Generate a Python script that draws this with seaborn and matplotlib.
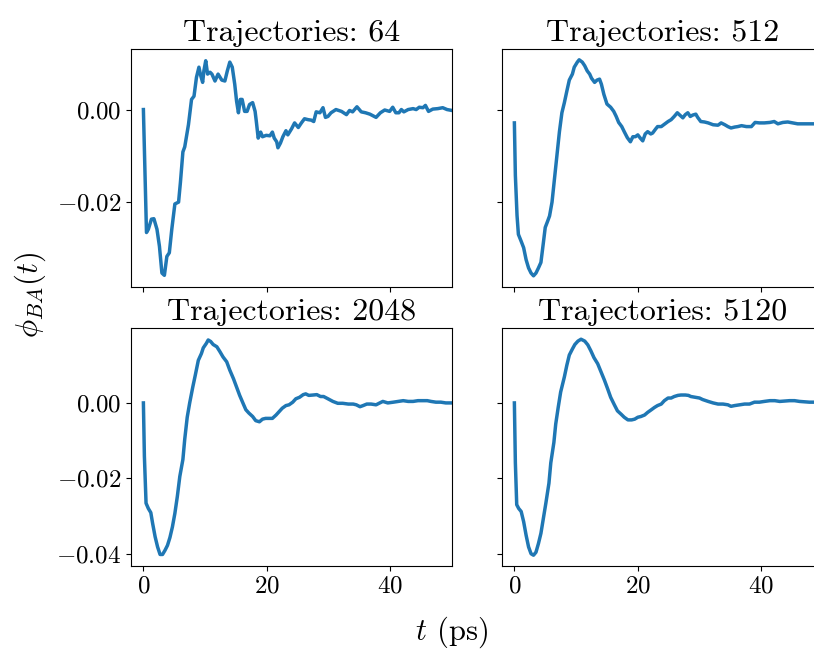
import matplotlib
matplotlib.use("Agg")
import matplotlib.pyplot as plt
import pandas as pd
import seaborn as sns

# Time axis (ps) and correlation function phi_BA(t) for each ensemble size
t64 = [0, 0.5, 0.8, 1.3, 1.7, 2.2, 2.6, 3.0, 3.4, 3.8, 4.2, 4.6, 5.1, 5.7, 6.0,
       6.4, 6.7, 7.3, 7.8, 8.2, 8.6, 9.0, 9.3, 9.6, 9.8, 10.1, 10.4, 10.8, 11.1,
       11.6, 12.1, 12.7, 13.2, 13.6, 14.0, 14.4, 14.8, 15.1, 15.4, 15.7, 16.0,
       16.4, 16.8, 17.2, 17.7, 18.1, 18.3, 18.6, 19.0, 19.3, 19.9, 20.5, 20.9,
       21.2, 21.6, 21.8, 22.2, 22.6, 23.1, 23.4, 24.0, 24.5, 25.1, 25.6, 26.1,
       26.7, 27.2, 27.6, 28.0, 28.6, 29.1, 29.5, 29.9, 30.4, 31.2, 32.1, 32.9,
       33.4, 33.9, 34.6, 35.3, 36.0, 36.7, 37.7, 38.4, 39.1, 39.9, 40.4, 40.9,
       41.4, 41.8, 42.2, 42.9, 43.7, 44.2, 44.7, 45.3, 45.7, 46.2, 46.9, 47.7,
       48.5, 49.2, 50.0]
phi64 = [0.0, -0.0267, -0.026, -0.0238, -0.0237, -0.026, -0.0297, -0.0355,
         -0.036, -0.0319, -0.0311, -0.026, -0.0205, -0.0201, -0.0158, -0.0092,
         -0.0081, -0.0033, 0.0022, 0.0029, 0.0070, 0.0092, 0.0073, 0.0059,
         0.0084, 0.0106, 0.0077, 0.0081, 0.0077, 0.0062, 0.0077, 0.0064, 0.0062,
         0.0084, 0.0103, 0.0092, 0.0055, 0.0018, -0.0007, 0.0022, 0.0022,
         -0.0004, -0.0004, 0.0011, 0.0015, -0.0004, -0.0026, -0.0062, -0.0049,
         -0.0059, -0.0056, -0.0057, -0.0049, -0.0062, -0.0070, -0.0083, -0.0073,
         -0.0059, -0.0046, -0.0055, -0.0042, -0.0029, -0.0039, -0.0029, -0.0020,
         -0.0022, -0.0023, -0.0026, -0.0005, -0.0007, 0.0004, -0.0017, -0.0015,
         -0.0007, 0.0, -0.0004, -0.0011, -0.0002, -0.0005, 0.0006, -0.0005,
         -0.0007, -0.0010, -0.0017, -0.0007, -0.0001, -0.0004, 0.0005, -0.0007,
         -0.0007, 0.0, -0.0005, 0.0, 0.0002, 0.0, 0.0005, 0.0004, 0.0009,
         -0.0004, 0.0001, 0.0002, 0.0004, 0.0, -0.0002]

t512 = [0, 0.16, 0.43, 0.65, 1.1, 1.5, 1.9, 2.3, 2.7, 3.1, 3.5, 3.9, 4.3, 4.7,
        5.0, 5.4, 5.7, 6.1, 6.5, 6.9, 7.3, 7.7, 8.1, 8.5, 8.9, 9.4, 9.7, 10.2,
        10.5, 11.0, 11.4, 11.8, 12.2, 12.5, 13.0, 13.4, 13.8, 14.1, 14.5, 15.0,
        15.6, 16.1, 16.5, 16.9, 17.4, 17.8, 18.3, 18.8, 19.2, 19.6, 20.0, 20.4,
        20.8, 21.2, 21.6, 22.1, 22.4, 22.9, 23.2, 23.8, 24.3, 24.9, 25.4, 25.9,
        26.4, 26.8, 27.3, 27.7, 28.1, 28.5, 28.9, 29.4, 29.7, 30.2, 30.8, 31.4,
        32.2, 33.0, 33.5, 34.1, 34.6, 35.1, 35.7, 36.2, 36.8, 37.6, 38.4, 39.0,
        39.7, 40.5, 41.4, 42.1, 42.7, 43.5, 44.3, 45.1, 45.9, 46.8, 47.6, 48.4,
        49.2, 50.0]
phi512 = [-0.0029, -0.0143, -0.0230, -0.0271, -0.0286, -0.0300, -0.0326,
          -0.0344, -0.0355, -0.0361, -0.0355, -0.0344, -0.0332, -0.0289,
          -0.0256, -0.0242, -0.0231, -0.0201, -0.0150, -0.0099, -0.0048,
          -0.0007, 0.0015, 0.0040, 0.0064, 0.0077, 0.0092, 0.0103, 0.0108,
          0.0103, 0.0095, 0.0084, 0.0077, 0.0068, 0.0059, 0.0064, 0.0066,
          0.0055, 0.0033, 0.0012, 0.0005, -0.0004, -0.0015, -0.0028, -0.0037,
          -0.0048, -0.0061, -0.0070, -0.0059, -0.0059, -0.0055, -0.0062,
          -0.0068, -0.0053, -0.0048, -0.0053, -0.0051, -0.0042, -0.0037,
          -0.0037, -0.0032, -0.0026, -0.0022, -0.0015, -0.0007, -0.0012,
          -0.0018, -0.0011, -0.0007, -0.0015, -0.0012, -0.0010, -0.0017,
          -0.0026, -0.0027, -0.0029, -0.0033, -0.0034, -0.0029, -0.0033,
          -0.0037, -0.0040, -0.0038, -0.0037, -0.0035, -0.0037, -0.0037,
          -0.0028, -0.0029, -0.0029, -0.0028, -0.0026, -0.0031, -0.0028,
          -0.0027, -0.0029, -0.0031, -0.0031, -0.0031, -0.0031, -0.0031,
          -0.0031]

t2048 = [0, 0.16, 0.43, 0.8, 1.2, 1.5, 1.9, 2.3, 2.7, 3.1, 3.5, 3.9, 4.3, 4.7,
         5.1, 5.5, 5.9, 6.4, 6.7, 7.1, 7.5, 8.0, 8.4, 8.9, 9.4, 9.7, 10.2, 10.5,
         10.9, 11.3, 11.9, 12.4, 12.9, 13.5, 14.0, 14.6, 15.1, 15.6, 16.2, 16.6,
         17.1, 17.7, 18.2, 18.8, 19.3, 19.8, 20.4, 20.9, 21.5, 22.0, 22.5, 23.1,
         23.6, 24.2, 24.7, 25.3, 25.9, 26.3, 26.8, 27.5, 28.1, 28.7, 29.2, 29.9,
         30.7, 31.5, 32.3, 33.2, 34.0, 34.5, 35.1, 35.6, 36.2, 36.9, 37.7, 38.3,
         38.8, 39.6, 40.5, 41.3, 42.1, 42.9, 43.7, 44.5, 45.3, 46.0, 46.6, 47.4,
         48.2, 49.0, 50.0]
phi2048 = [0.0, -0.0141, -0.0266, -0.0280, -0.0291, -0.0320, -0.0355, -0.0382,
           -0.0402, -0.0402, -0.0391, -0.0378, -0.0357, -0.0329, -0.0293,
           -0.0248, -0.0195, -0.0150, -0.0096, -0.0038, 0.0, 0.0042, 0.0073,
           0.0113, 0.0131, 0.0146, 0.0158, 0.0167, 0.0163, 0.0155, 0.0149,
           0.0136, 0.0122, 0.0109, 0.0087, 0.0064, 0.0042, 0.0020, -0.0003,
           -0.0018, -0.0027, -0.0036, -0.0047, -0.0050, -0.0043, -0.0041,
           -0.0041, -0.0041, -0.0032, -0.0023, -0.0014, -0.0007, -0.0005,
           0.0002, 0.0011, 0.0015, 0.0022, 0.0024, 0.0020, 0.0021, 0.0022,
           0.0017, 0.0017, 0.0011, 0.0004, -0.0001, -0.0001, -0.0003, -0.0003,
           -0.0005, -0.0010, -0.0007, -0.0003, -0.0003, -0.0005, 0.0, 0.0004,
           0.0, 0.0002, 0.0004, 0.0006, 0.0004, 0.0004, 0.0006, 0.0006, 0.0006,
           0.0004, 0.0002, 0.0002, 0.0, 0.0]

t5120 = [0, 0.16, 0.38, 0.7, 1.1, 1.5, 1.9, 2.3, 2.7, 3.1, 3.5, 3.9, 4.3, 4.7,
         5.1, 5.6, 5.9, 6.4, 6.7, 7.1, 7.5, 8.1, 8.5, 8.9, 9.4, 9.8, 10.3, 10.8,
         11.4, 11.9, 12.4, 12.9, 13.5, 14.0, 14.6, 15.1, 15.6, 16.2, 16.7, 17.3,
         17.8, 18.4, 19.0, 19.5, 20.0, 20.5, 21.1, 21.6, 22.2, 22.7, 23.2, 23.8,
         24.3, 24.9, 25.4, 25.9, 26.5, 27.0, 27.7, 28.2, 28.6, 29.3, 30.0, 30.5,
         31.4, 32.2, 33.0, 33.8, 34.6, 35.1, 35.7, 36.5, 37.3, 38.1, 38.9, 39.7,
         40.5, 41.4, 42.2, 43.0, 43.8, 44.6, 45.4, 46.2, 47.0, 47.8, 48.6, 50.0]
phi5120 = [0.0, -0.0159, -0.0270, -0.0280, -0.0288, -0.0315, -0.0351, -0.0382,
           -0.0400, -0.0404, -0.0396, -0.0373, -0.0346, -0.0306, -0.0266,
           -0.0213, -0.0159, -0.0105, -0.0056, -0.0012, 0.0029, 0.0069, 0.0100,
           0.0127, 0.0143, 0.0155, 0.0164, 0.0169, 0.0164, 0.0154, 0.0138,
           0.0120, 0.0104, 0.0084, 0.0060, 0.0038, 0.0015, -0.0005, -0.0021,
           -0.0030, -0.0038, -0.0045, -0.0045, -0.0043, -0.0038, -0.0036,
           -0.0032, -0.0025, -0.0018, -0.0012, -0.0007, -0.0003, 0.0006, 0.0013,
           0.0013, 0.0017, 0.0020, 0.0021, 0.0021, 0.0020, 0.0017, 0.0015,
           0.0013, 0.0009, 0.0004, 0.0, -0.0003, -0.0003, -0.0005, -0.0009,
           -0.0007, -0.0005, -0.0003, -0.0003, 0.0002, 0.0002, 0.0004, 0.0006,
           0.0006, 0.0004, 0.0005, 0.0006, 0.0006, 0.0004, 0.0003, 0.0002,
           0.0002, 0.0002]

trajectories = [64, 512, 2048, 5120]
series = [(t64, phi64), (t512, phi512), (t2048, phi2048), (t5120, phi5120)]

plt.rcParams.update({
    "font.family": "cmr10",
    "mathtext.fontset": "cm",
    "axes.formatter.use_mathtext": True,
    "axes.unicode_minus": True,
    "xtick.labelsize": 18,
    "ytick.labelsize": 18,
    "axes.titlesize": 23,
})

fig, axes = plt.subplots(2, 2, figsize=(8.14, 6.5), dpi=100,
                         sharex="col", sharey="row")
fig.subplots_adjust(left=0.161, right=1.011, top=0.9246, bottom=0.1292,
                    wspace=0.156, hspace=0.176)

for ax, n, (t, phi) in zip(axes.flat, trajectories, series):
    df = pd.DataFrame({"t": t, "phi": phi})
    sns.lineplot(data=df, x="t", y="phi", ax=ax, color="#1f77b4",
                 linewidth=2.5, estimator=None, sort=False)
    ax.set_title(f"Trajectories: {n}")
    ax.set_xlabel("")
    ax.set_ylabel("")
    ax.set_xlim(-2, 50)
    ax.set_xticks([0, 20, 40])

fmt = matplotlib.ticker.FormatStrFormatter(r"$%.2f$")
axes[0, 0].set_yticks([0.0, -0.02])
axes[1, 0].set_yticks([0.0, -0.02, -0.04])
axes[0, 0].yaxis.set_major_formatter(fmt)
axes[1, 0].yaxis.set_major_formatter(fmt)

fig.text(0.037, 0.546, r"$\phi_{BA}(t)$", rotation=90, ha="center",
         va="center", fontsize=22)
fig.text(0.555, 0.028, r"$t$ (ps)", ha="center", va="center", fontsize=22)

fig.savefig("out.png", dpi=100)
